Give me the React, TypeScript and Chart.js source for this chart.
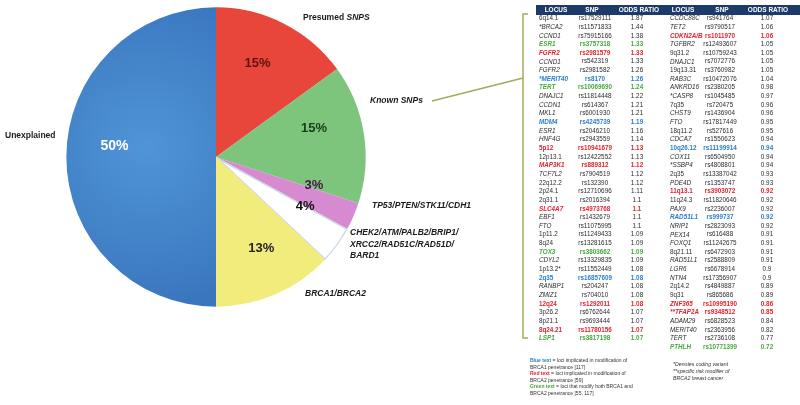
import React, { useEffect, useRef } from "react";
import { Chart, registerables } from "chart.js";

Chart.register(...registerables);

// ---------- data ----------
const pieLabels: string[][] = [
  ["Presumed SNPS"],
  ["Known SNPs"],
  ["TP53/PTEN/STK11/CDH1"],
  ["CHEK2/ATM/PALB2/BRIP1/", "XRCC2/RAD51C/RAD51D/", "BARD1"],
  ["BRCA1/BRCA2"],
  ["Unexplained"],
];
const pieValues = [15, 15, 3, 4, 13, 50];

const tableHeaders = ["LOCUS", "SNP", "ODDS RATIO"];

const leftLoci = ["6q14.1", "*BRCA2", "CCND1", "ESR1", "FGFR2", "CCND1", "FGFR2", "*MERIT40", "TERT", "DNAJC1", "CCDN1", "MKL1", "MDM4", "ESR1", "HNF4G", "5p12", "12p13.1", "MAP3K1", "TCF7L2", "22q12.2", "2p24.1", "2q31.1", "SLC4A7", "EBF1", "FTO", "1p11.2", "8q24", "TOX3", "CDYL2", "1p13.2*", "2q35", "RANBP1", "ZMIZ1", "12q24", "3p26.2", "8p21.1", "8q24.21", "LSP1"];
const leftSnps = ["rs17529111", "rs11571833", "rs75915166", "rs3757318", "rs2981579", "rs542319", "rs2981582", "rs8170", "rs10069690", "rs11814448", "rs614367", "rs6001930", "rs4245739", "rs2046210", "rs2943559", "rs10941679", "rs12422552", "rs889312", "rs7904519", "rs132390", "rs12710696", "rs2016394", "rs4973768", "rs1432679", "rs11075995", "rs11249433", "rs13281615", "rs3803662", "rs13329835", "rs11552449", "rs16857609", "rs204247", "rs704010", "rs1292011", "rs6762644", "rs9693444", "rs11780156", "rs3817198"];
const leftOdds = ["1.87", "1.44", "1.38", "1.33", "1.33", "1.33", "1.26", "1.26", "1.24", "1.22", "1.21", "1.21", "1.19", "1.16", "1.14", "1.13", "1.13", "1.12", "1.12", "1.12", "1.11", "1.1", "1.1", "1.1", "1.1", "1.09", "1.09", "1.09", "1.09", "1.08", "1.08", "1.08", "1.08", "1.08", "1.07", "1.07", "1.07", "1.07"];
// B = BRCA1 modifier, R = BRCA2 modifier, G = both
const leftGroups = ["", "", "", "G", "R", "", "", "B", "G", "", "", "", "B", "", "", "R", "", "R", "", "", "", "", "R", "", "", "", "", "G", "", "", "B", "", "", "R", "", "", "R", "G"];

const rightLoci = ["CCDC88C", "TET2", "CDKN2A/B", "TGFBR2", "9q31.2", "DNAJC1", "19q13.31", "RAB3C", "ANKRD16", "*CASP8", "7q35", "CHST9", "FTO", "18q11.2", "CDCA7", "10q26.12", "COX11", "*SSBP4", "2q35", "PDE4D", "11q13.1", "11q24.3", "PAX9", "RAD51L1", "NRIP1", "PEX14", "FOXQ1", "8q21.11", "RAD51L1", "LGR6", "NTN4", "2q14.2", "9q31", "ZNF365", "**TFAP2A", "ADAM29", "MERIT40", "TERT", "PTHLH"];
const rightSnps = ["rs941764", "rs9790517", "rs1011970", "rs12493607", "rs10759243", "rs7072776", "rs3760982", "rs10472076", "rs2380205", "rs1045485", "rs720475", "rs1436904", "rs17817449", "rs527616", "rs1550623", "rs11199914", "rs6504950", "rs4808801", "rs13387042", "rs1353747", "rs3903072", "rs11820646", "rs2236007", "rs999737", "rs2823093", "rs616488", "rs11242675", "rs6472903", "rs2588809", "rs6678914", "rs17356907", "rs4849887", "rs865686", "rs10995190", "rs9348512", "rs6828523", "rs2363956", "rs2736108", "rs10771399"];
const rightOdds = ["1.07", "1.06", "1.06", "1.05", "1.05", "1.05", "1.05", "1.04", "0.98", "0.97", "0.96", "0.96", "0.95", "0.95", "0.94", "0.94", "0.94", "0.94", "0.93", "0.93", "0.92", "0.92", "0.92", "0.92", "0.92", "0.91", "0.91", "0.91", "0.91", "0.9", "0.9", "0.89", "0.89", "0.86", "0.85", "0.84", "0.82", "0.77", "0.72"];
const rightGroups = ["", "", "R", "", "", "", "", "", "", "", "", "", "", "", "", "B", "", "", "", "", "R", "", "", "B", "", "", "", "", "", "", "", "", "", "R", "R", "", "", "", "G"];

const legendNotes = [
  ["B", "Blue text", " = loci implicated in modification of", "BRCA1 penetrance [117]"],
  ["R", "Red text", " = loci implicated in modification of", "BRCA2 penetrance [59]"],
  ["G", "Green text", " = loci that modify both BRCA1 and", "BRCA2 penetrance [55, 117]"],
];
const sideNotes = ["*Denotes coding variant", "**specific risk modifier of", "BRCA2 breast cancer"];

// ---------- styles ----------
const FONT = "'Liberation Sans', Arial, sans-serif";
const sliceColors = ["#e8463b", "#7dc47d", "#d68bd0", "#ffffff", "#f2ec7c", "#4487cb"];
const pctColors = ["#5c1410", "#173f17", "#4a1448", "#111111", "#222222", "#ffffff"];
const pctNudgeDeg = [-3, -7, -7, -7, -3, 6];
const groupColors: Record<string, string> = { "": "#2b2b2b", B: "#2a7fcc", R: "#e3222c", G: "#45a83c" };

function isBand(s: string) {
  return /^\*?\d+[pq]/.test(s);
}

export default function App() {
  const ref = useRef<HTMLCanvasElement | null>(null);

  useEffect(() => {
    if (!ref.current) return;

    const overlay = {
      id: "overlay",
      afterDraw(chart: any) {
        const ctx: CanvasRenderingContext2D = chart.ctx;
        ctx.save();

        // percentage labels
        const meta = chart.getDatasetMeta(0);
        meta.data.forEach((el: any, i: number) => {
          const p = el.getProps(["x", "y", "startAngle", "endAngle", "outerRadius"], true);
          const a = (p.startAngle + p.endAngle) / 2 + (pctNudgeDeg[i] * Math.PI) / 180;
          const r = p.outerRadius * 0.68;
          ctx.font = `bold ${i === 5 ? 14 : 13}px ${FONT}`;
          ctx.fillStyle = pctColors[i];
          ctx.textAlign = "center";
          ctx.textBaseline = "middle";
          ctx.fillText(`${pieValues[i]}%`, p.x + Math.cos(a) * r, p.y + Math.sin(a) * r);
        });

        // outer labels
        ctx.fillStyle = "#1a1a1a";
        ctx.textAlign = "left";
        ctx.textBaseline = "middle";
        const bold = `bold 8.5px ${FONT}`;
        const boldIt = `italic bold 8.5px ${FONT}`;
        ctx.font = bold;
        const pre = pieLabels[0][0].split(" ");
        ctx.fillText(pre[0] + " ", 303, 18);
        const w0 = ctx.measureText(pre[0] + " ").width;
        ctx.font = boldIt;
        ctx.fillText(pre[1], 303 + w0, 18);
        ctx.font = boldIt;
        ctx.fillText(pieLabels[1][0], 370, 101);
        ctx.fillText(pieLabels[2][0], 372, 206);
        pieLabels[3].forEach((t, k) => ctx.fillText(t, 350, 233 + k * 11.5));
        ctx.fillText(pieLabels[4][0], 305, 294);
        ctx.font = bold;
        ctx.fillText(pieLabels[5][0], 5, 136);

        // connector
        ctx.strokeStyle = "#a6a95e";
        ctx.lineWidth = 1.5;
        ctx.beginPath();
        ctx.moveTo(432, 101);
        ctx.lineTo(523, 78);
        ctx.moveTo(528, 14);
        ctx.lineTo(523, 14);
        ctx.lineTo(523, 338);
        ctx.lineTo(528, 338);
        ctx.stroke();

        // table header
        ctx.fillStyle = "#1c3a6a";
        ctx.fillRect(536, 5, 264, 10);
        ctx.fillStyle = "#ffffff";
        ctx.font = `bold 6.5px ${FONT}`;
        ctx.textAlign = "center";
        const hx = [556, 592, 639, 683, 722, 768];
        hx.forEach((x, k) => ctx.fillText(tableHeaders[k % 3], x, 10));

        const drawCol = (loci: string[], snps: string[], odds: string[], groups: string[], xl: number, xs: number, xo: number) => {
          loci.forEach((loc, i) => {
            const y = 18.5 + i * 8.65;
            const g = groups[i];
            const w = g ? "bold " : "";
            ctx.fillStyle = groupColors[g];
            ctx.textAlign = "left";
            ctx.font = `${isBand(loc) ? "" : "italic "}${w}6.3px ${FONT}`;
            ctx.fillText(loc, xl, y);
            ctx.textAlign = "center";
            ctx.font = `${w}6.3px ${FONT}`;
            ctx.fillText(snps[i], xs, y);
            ctx.fillText(odds[i], xo, y);
          });
        };
        drawCol(leftLoci, leftSnps, leftOdds, leftGroups, 539, 595, 637);
        drawCol(rightLoci, rightSnps, rightOdds, rightGroups, 670, 720, 767);

        // footnotes
        ctx.textAlign = "left";
        legendNotes.forEach((n, k) => {
          const y = 361 + k * 13;
          ctx.font = `bold 5px ${FONT}`;
          ctx.fillStyle = groupColors[n[0]];
          ctx.fillText(n[1], 530, y);
          const w1 = ctx.measureText(n[1]).width;
          ctx.font = `5px ${FONT}`;
          ctx.fillStyle = "#333333";
          ctx.fillText(n[2], 530 + w1, y);
          ctx.fillText(n[3], 530, y + 6.5);
        });
        ctx.font = `italic 5.2px ${FONT}`;
        sideNotes.forEach((t, k) => ctx.fillText(t, 673, 365 + k * 7));

        ctx.restore();
      },
    };

    const chart = new Chart(ref.current, {
      type: "pie",
      data: {
        labels: pieLabels.map((l) => l.join(" ")),
        datasets: [
          {
            data: pieValues,
            backgroundColor: (c: any) => {
              const base = sliceColors[c.dataIndex];
              if (c.dataIndex !== 5) return base;
              const ca = c.chart.chartArea;
              if (!ca) return base;
              const cx = (ca.left + ca.right) / 2;
              const cy = (ca.top + ca.bottom) / 2;
              const g = c.chart.ctx.createRadialGradient(cx - 70, cy - 10, 5, cx - 70, cy - 10, 160);
              g.addColorStop(0, "#4f94d6");
              g.addColorStop(1, "#3a76be");
              return g;
            },
            borderWidth: (c: any) => (c.dataIndex === 3 ? 1 : 0),
            borderColor: "#c9d9ea",
            borderAlign: "inner",
          },
        ],
      },
      options: {
        responsive: false,
        maintainAspectRatio: false,
        animation: false,
        layout: { padding: { left: 66, right: 434, top: 7, bottom: 98 } },
        plugins: { legend: { display: false }, tooltip: { enabled: false } },
      },
      plugins: [overlay],
    });
    return () => chart.destroy();
  }, []);

  return (
    <div style={{ position: "fixed", left: 0, top: 0, width: 800, height: 405, background: "#ffffff" }}>
      <canvas ref={ref} width={800} height={405} />
    </div>
  );
}
